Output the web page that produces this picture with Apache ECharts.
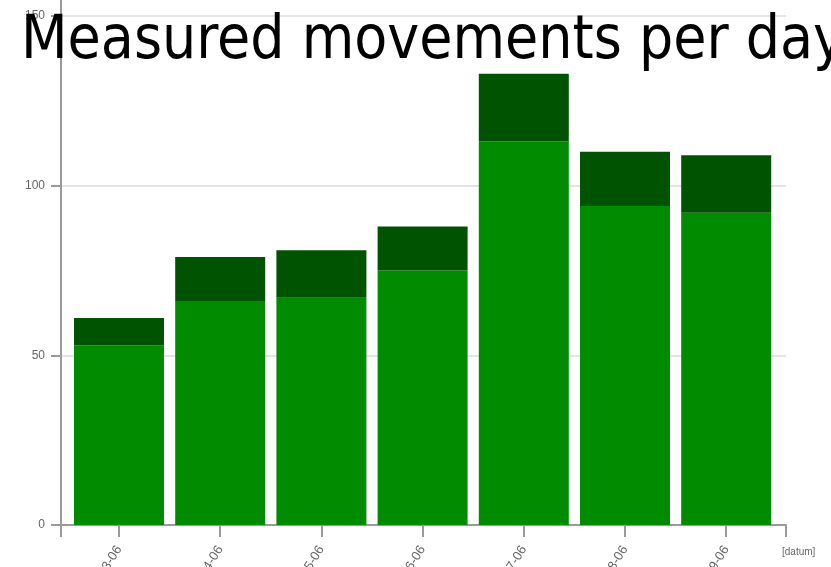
<!DOCTYPE html>
<html>
<head>
<meta charset="utf-8">
<script src="https://cdn.jsdelivr.net/npm/echarts@6/dist/echarts.min.js"></script>
<style>
  html, body { margin: 0; padding: 0; background: #fff; }
  #chart { width: 831px; height: 567px; }
</style>
</head>
<body>
<div id="chart"></div>
<script>
// Days shown on the x axis
const days = ['03-06', '04-06', '05-06', '06-06', '07-06', '08-06', '09-06'];
// Movements per day, split in two stacked parts
const baseMovements = [53, 66, 67, 75, 113, 94, 92];
const extraMovements = [8, 13, 14, 13, 20, 16, 17];
// Value axis ticks
const yTicks = [0, 50, 100, 150];

const axisGray = '#9a9a9a';
const labelGray = '#666';

const chart = echarts.init(document.getElementById('chart'), null, { renderer: 'canvas' });

chart.setOption({
  animation: false,
  backgroundColor: '#ffffff',
  title: {
    text: 'Measured movements per day',
    left: 16,
    top: 7,
    textStyle: {
      fontFamily: '"DejaVu Sans Condensed", "DejaVu Sans", sans-serif',
      fontSize: 60,
      fontWeight: 'normal',
      color: '#000'
    },
    z: 10
  },
  grid: [
    // frame with value axis, grid lines and the outer ticks
    { left: 61, right: 45, top: 16, bottom: 42, containLabel: false, outerBoundsMode: 'none' },
    // bar band area (inset from the frame)
    { left: 68.4, width: 708.4, top: 16, bottom: 42, containLabel: false, outerBoundsMode: 'none' },
    // axis line continuing above the top tick
    { left: 61, right: 45, top: 0, bottom: 42, containLabel: false, outerBoundsMode: 'none' }
  ],
  xAxis: [
    {
      gridIndex: 0,
      type: 'value',
      min: 0,
      max: 1,
      interval: 1,
      axisLine: { show: true, lineStyle: { color: axisGray, width: 2 } },
      axisTick: { show: true, length: 12, lineStyle: { color: axisGray, width: 2 } },
      axisLabel: { show: false },
      splitLine: { show: false },
      name: '[datum]',
      nameLocation: 'end',
      nameGap: -4,
      nameTextStyle: {
        fontFamily: 'Liberation Sans, Arial, sans-serif',
        fontSize: 10,
        color: labelGray,
        verticalAlign: 'top',
        lineHeight: 54
      }
    },
    {
      gridIndex: 1,
      type: 'category',
      data: days,
      axisLine: { show: false },
      axisTick: { show: true, alignWithLabel: true, length: 12, lineStyle: { color: axisGray, width: 2 } },
      axisLabel: {
        rotate: 58,
        margin: 22,
        fontFamily: 'Liberation Sans, Arial, sans-serif',
        fontSize: 13,
        color: labelGray
      },
      splitLine: { show: false }
    },
    {
      gridIndex: 2,
      type: 'value',
      min: 0,
      max: 1,
      show: false
    }
  ],
  yAxis: [
    {
      gridIndex: 0,
      type: 'value',
      min: yTicks[0],
      max: yTicks[yTicks.length - 1],
      interval: yTicks[1] - yTicks[0],
      axisLine: { show: true, lineStyle: { color: axisGray, width: 2 } },
      axisTick: { show: true, length: 10, lineStyle: { color: axisGray, width: 2 } },
      axisLabel: {
        margin: 16,
        fontFamily: 'Liberation Sans, Arial, sans-serif',
        fontSize: 12,
        color: labelGray
      },
      splitLine: { show: true, lineStyle: { color: '#e4e4e4', width: 2 } }
    },
    {
      gridIndex: 1,
      type: 'value',
      min: yTicks[0],
      max: yTicks[yTicks.length - 1],
      show: false
    },
    {
      gridIndex: 2,
      type: 'value',
      min: 0,
      max: 1,
      axisLine: { show: true, lineStyle: { color: axisGray, width: 2 } },
      axisTick: { show: false },
      axisLabel: { show: false },
      splitLine: { show: false }
    }
  ],
  series: [
    {
      type: 'bar',
      xAxisIndex: 1,
      yAxisIndex: 1,
      stack: 'movements',
      barWidth: 90,
      itemStyle: { color: '#008b00' },
      data: baseMovements
    },
    {
      type: 'bar',
      xAxisIndex: 1,
      yAxisIndex: 1,
      stack: 'movements',
      barWidth: 90,
      itemStyle: { color: '#005300' },
      data: extraMovements
    }
  ]
});
</script>
</body>
</html>
